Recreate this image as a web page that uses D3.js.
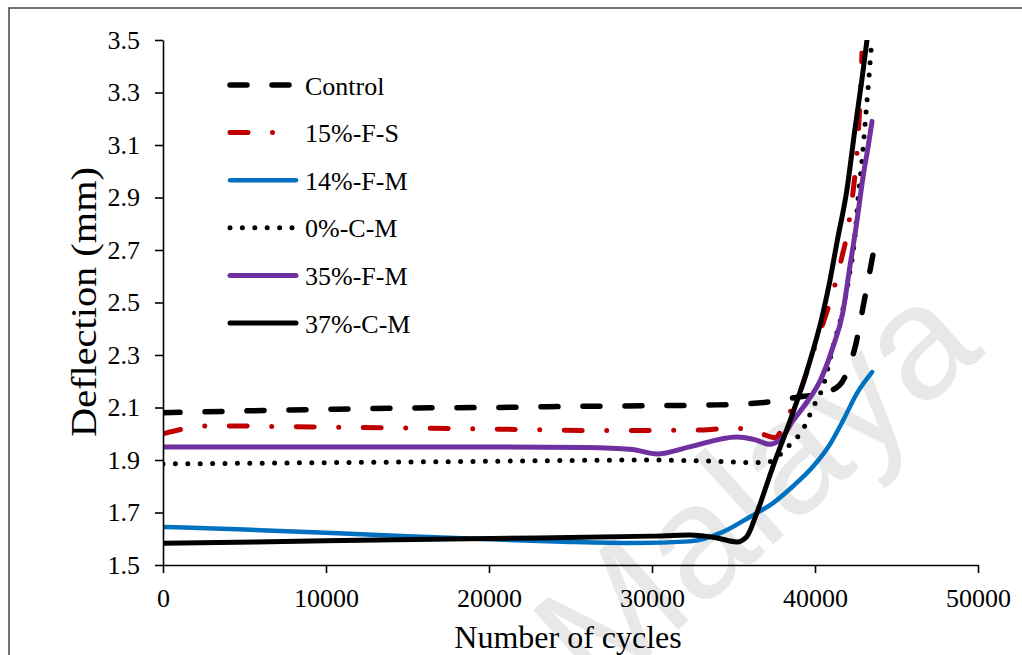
<!DOCTYPE html>
<html><head><meta charset="utf-8">
<script src="https://cdn.jsdelivr.net/npm/d3@7"></script>
<style>body{margin:0;background:#fff}svg{display:block}</style>
</head><body>
<svg id="c" width="1022" height="655"></svg>
<script>
// ---- data ----
const xTicks = [0, 10000, 20000, 30000, 40000, 50000];
const yTicks = [1.5, 1.7, 1.9, 2.1, 2.3, 2.5, 2.7, 2.9, 3.1, 3.3, 3.5];
const seriesNames = ["Control", "15%-F-S", "14%-F-M", "0%-C-M", "35%-F-M", "37%-C-M"];

const control = [[0,2.08],[5000,2.087],[10000,2.093],[15000,2.098],[20000,2.10],[25000,2.104],[30000,2.107],[34000,2.11],[37000,2.12],[39000,2.14],[40500,2.155],[41500,2.185],[42000,2.24],[42500,2.34],[43000,2.50],[43550,2.68]];
const f15S = [[0,2.0],[1200,2.018],[3000,2.03],[10000,2.025],[20000,2.018],[28000,2.012],[33000,2.014],[35000,2.022],[36500,2.005],[37550,1.985],[38280,2.06],[39260,2.19],[39820,2.30],[40490,2.42],[41100,2.54],[41600,2.66],[42020,2.78],[42330,2.92],[42520,3.03],[42670,3.16],[42780,3.29],[42880,3.45]];
const f14M = [[0,1.645],[5000,1.635],[10000,1.623],[15000,1.61],[20000,1.598],[25000,1.588],[29000,1.584],[32300,1.59],[34360,1.626],[36000,1.683],[37400,1.735],[38650,1.80],[39880,1.875],[40920,1.96],[41720,2.05],[42580,2.155],[43500,2.235]];
const c0M = [[0,1.885],[10000,1.89],[20000,1.895],[30000,1.90],[34000,1.895],[36500,1.89],[37300,1.895],[38160,1.94],[38650,1.97],[39200,2.01],[39880,2.10],[40490,2.18],[41100,2.33],[41700,2.47],[42100,2.60],[42450,2.75],[42650,2.90],[42900,3.05],[43100,3.20],[43300,3.35],[43450,3.47]];
const f35M = [[0,1.95],[10000,1.95],[20000,1.95],[26000,1.948],[28800,1.94],[30300,1.923],[32300,1.95],[35200,1.988],[36400,1.976],[37200,1.96],[37850,1.976],[38650,2.05],[39500,2.12],[40300,2.20],[41100,2.33],[41700,2.46],[42150,2.64],[42550,2.80],[42950,2.98],[43250,3.09],[43500,3.19]];
const c37M = [[0,1.583],[10000,1.592],[17600,1.599],[23000,1.603],[30000,1.61],[32300,1.614],[34000,1.603],[35200,1.588],[35800,1.607],[36440,1.70],[37420,1.875],[38470,2.05],[39510,2.24],[40490,2.46],[40920,2.585],[41350,2.73],[41960,2.93],[42450,3.16],[42880,3.35],[43250,3.53]];
const seriesData = [control, f15S, f14M, c0M, f35M, c37M];

// ---- styles ----
const styles = [
  {color:"#000000", width:5.5, dash:"17,25"},
  {color:"#C00000", width:5, dash:"18,24.5,0,24.5"},
  {color:"#0070C0", width:4.5, dash:null},
  {color:"#000000", width:5, dash:"0,12.4"},
  {color:"#7030A0", width:5, dash:null},
  {color:"#000000", width:5, dash:null}
];
const serif = "'Liberation Serif','Times New Roman',serif";

const svg = d3.select("#c");
// outer frame
svg.append("rect").attr("x",9).attr("y",8).attr("width",1100).attr("height",700)
  .attr("fill","none").attr("stroke","#444").attr("stroke-width",1.5);

// watermark
svg.append("text").text("Malaya")
  .attr("transform","translate(598,702) rotate(-42)")
  .attr("font-family","'Liberation Sans',Arial,sans-serif")
  .attr("font-size",162).attr("fill","#e8e8e8");

const x = d3.scaleLinear().domain([0,50000]).range([163,978]);
const y = d3.scaleLinear().domain([1.5,3.5]).range([565,40]);

svg.append("defs").append("clipPath").attr("id","plot")
  .append("rect").attr("x",163).attr("y",40).attr("width",815).attr("height",525);

const line = d3.line().x(d=>x(d[0])).y(d=>y(d[1])).curve(d3.curveMonotoneX);
const g = svg.append("g").attr("clip-path","url(#plot)");
seriesData.forEach((data,i)=>{
  const s = styles[i];
  g.append("path").attr("d",line(data)).attr("fill","none")
    .attr("stroke",s.color).attr("stroke-width",s.width)
    .attr("stroke-linecap","round").attr("stroke-linejoin","round")
    .attr("stroke-dasharray",s.dash);
});

// axes
const yAxis = svg.append("g").attr("transform","translate(163,0)")
  .call(d3.axisLeft(y).tickValues(yTicks).tickSize(8).tickSizeOuter(0).tickPadding(15).tickFormat(d3.format(".1f")));
const xAxis = svg.append("g").attr("transform","translate(0,565)")
  .call(d3.axisBottom(x).tickValues(xTicks).tickSize(8).tickSizeOuter(0).tickPadding(16).tickFormat(d3.format("d")));
[yAxis,xAxis].forEach(a=>{
  a.attr("font-family",serif).attr("font-size",26);
  a.select(".domain").attr("stroke","#000").attr("stroke-width",1.6);
  a.selectAll(".tick line").attr("stroke","#000").attr("stroke-width",1.6);
  a.selectAll(".tick text").attr("font-family",serif).attr("font-size",26).attr("fill","#000");
});

// axis titles
svg.append("text").text("Number of cycles").attr("x",568).attr("y",648)
  .attr("text-anchor","middle").attr("font-family",serif).attr("font-size",32).attr("fill","#000");
svg.append("text").text("Deflection (mm)")
  .attr("transform","translate(96,302) rotate(-90)")
  .attr("text-anchor","middle").attr("font-family",serif).attr("font-size",35)
  .attr("textLength",270).attr("lengthAdjust","spacingAndGlyphs").attr("fill","#000");

// legend
seriesNames.forEach((name,i)=>{
  const ly = 85 + i*47.6;
  const s = styles[i];
  svg.append("line").attr("x1",230).attr("x2",296).attr("y1",ly).attr("y2",ly)
    .attr("stroke",s.color).attr("stroke-width",s.width)
    .attr("stroke-linecap","round").attr("stroke-dasharray",s.dash);
  svg.append("text").text(name).attr("x",305).attr("y",ly+9.5)
    .attr("font-family",serif).attr("font-size",26).attr("fill","#000");
});
</script>
</body></html>
